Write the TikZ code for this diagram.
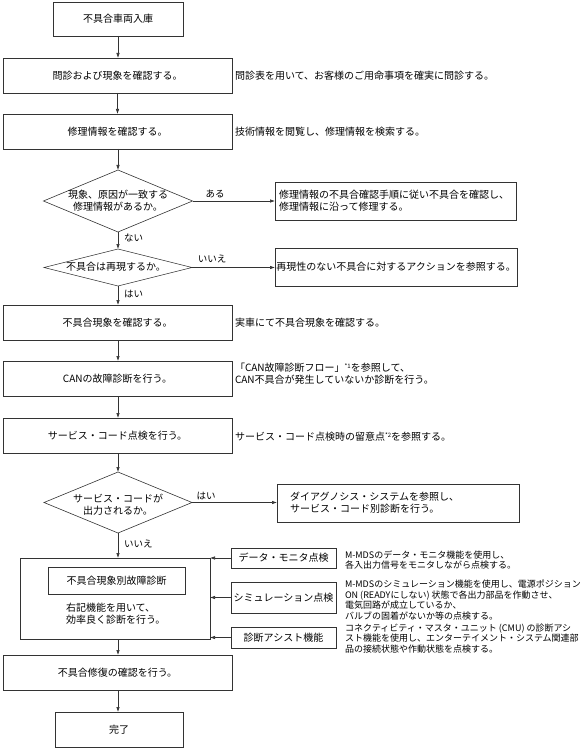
\documentclass[tikz,border=0pt]{standalone}
\usepackage{fontspec}
\setmainfont{Noto Sans CJK JP}
\usetikzlibrary{arrows.meta,shapes.geometric}
\newcommand{\supmark}[1]{\raisebox{3pt}{\fontsize{6pt}{6pt}\selectfont #1}}
\begin{document}
\begin{tikzpicture}[x=1pt,y=-1pt,
  font=\fontsize{10pt}{12pt}\selectfont,
  ln/.style={draw=black!80, line width=0.6pt},
  box/.style={ln, rectangle, inner sep=0pt, outer sep=0pt, align=center},
  dia/.style={ln, diamond, inner sep=0pt, outer sep=0pt},
  txt/.style={inner sep=0pt, outer sep=0pt, align=center},
  side/.style={inner sep=0pt, outer sep=0pt, align=left, anchor=west},
  sm/.style={side, font=\fontsize{9pt}{10.8pt}\selectfont},
  lbl/.style={inner sep=0pt, outer sep=0pt, font=\fontsize{9.5pt}{11pt}\selectfont},
  arr/.style={ln, -{Latex[length=5pt,width=3.5pt]}}]
\useasboundingbox (0,0) rectangle (584,751);

% main column
\node[box, minimum width=130pt, minimum height=34pt] (b1) at (118,19) {不具合車両入庫};
\node[box, minimum width=229pt, minimum height=35pt] (b2) at (117.5,75.5) {問診および現象を確認する。};
\node[box, minimum width=229pt, minimum height=35pt] (b3) at (117.5,131.5) {修理情報を確認する。};
\node[dia, minimum width=149pt, minimum height=62pt] (d1) at (118,201) {};
\node[txt] (d1t) at (118,200.5) {現象、原因が一致する\\修理情報があるか。};
\node[box, minimum height=38pt, text width=233pt, inner xsep=4pt, align=left] (r1) at (395.5,201) {修理情報の不具合確認手順に従い不具合を確認し、\\修理情報に沿って修理する。};
\node[dia, minimum width=148pt, minimum height=37pt] (d2) at (118,267.5) {};
\node[txt] (d2t) at (116,267) {不具合は再現するか。};
\node[box, minimum width=242pt, minimum height=38pt] (r2) at (396,267) {再現性のない不具合に対するアクションを参照する。};
\node[box, minimum width=229pt, minimum height=35pt] (b4) at (117.5,322.5) {不具合現象を確認する。};
\node[box, minimum width=229pt, minimum height=35pt] (b5) at (117.5,378.5) {CANの故障診断を行う。};
\node[box, minimum width=229pt, minimum height=35pt] (b6) at (117.5,435.5) {サービス・コード点検を行う。};
\node[dia, minimum width=148pt, minimum height=61pt] (d3) at (118,502.5) {};
\node[txt] (d3t) at (118,505) {サービス・コードが\\出力されるか。};
\node[box, minimum height=38pt, text width=216pt, inner xsep=13pt, align=left] (r3) at (398,503) {ダイアグノシス・システムを参照し、\\サービス・コード別診断を行う。};
\node[box, minimum width=190pt, minimum height=81pt] (big) at (115,598.5) {};
\node[box, minimum width=137pt, minimum height=27pt] (inner) at (116.5,580.5) {不具合現象別故障診断};
\node[side] (bigt) at (66,614) {右記機能を用いて、\\効率良く診断を行う。};
\node[box, minimum width=105pt, minimum height=20pt] (s1) at (283.5,558) {データ・モニタ点検};
\node[box, minimum width=105pt, minimum height=31pt] (s2) at (283.5,597.5) {シミュレーション点検};
\node[box, minimum width=105pt, minimum height=21pt] (s3) at (283.5,637.5) {診断アシスト機能};
\node[box, minimum width=229pt, minimum height=35pt] (b7) at (117.5,672.5) {不具合修復の確認を行う。};
\node[box, minimum width=128pt, minimum height=35pt] (b8) at (119,729.5) {完了};

% side texts
\node[side] (t2) at (235,75.5) {問診表を用いて、お客様のご用命事項を確実に問診する。};
\node[side] (t3) at (235,131.5) {技術情報を閲覧し、修理情報を検索する。};
\node[side] (t4) at (235,323) {実車にて不具合現象を確認する。};
\node[side] (t5) at (235,374) {「CAN故障診断フロー」\supmark{*1}を参照して、\\CAN不具合が発生していないか診断を行う。};
\node[side] (t6) at (235,437) {サービス・コード点検時の留意点\supmark{*2}を参照する。};
\node[sm] (m1) at (345,560) {M-MDSのデータ・モニタ機能を使用し、\\各入出力信号をモニタしながら点検する。};
\node[sm] (m2) at (345,600) {M-MDSのシミュレーション機能を使用し、電源ポジション\\ON (READYにしない) 状態で各出力部品を作動させ、\\電気回路が成立しているか、\\バルブの固着がないか等の点検する。};
\node[sm] (m3) at (345,638.5) {コネクティビティ・マスタ・ユニット (CMU) の診断アシ\\スト機能を使用し、エンターテイメント・システム関連部\\品の接続状態や作動状態を点検する。};

% labels
\node[lbl] (la1) at (215,194) {ある};
\node[lbl, anchor=west] (la2) at (124,238) {ない};
\node[lbl] (la3) at (212,259) {いいえ};
\node[lbl, anchor=west] (la4) at (124,294) {はい};
\node[lbl] (la5) at (206,496) {はい};
\node[lbl, anchor=west] (la6) at (124,544) {いいえ};

% connectors
\draw[arr] (b1.south) -- (b1.south |- b2.north);
\draw[arr] (b2.south) -- (b3.north);
\draw[arr] (b3.south -| d1.north) -- (d1.north);
\draw[arr] (d1.east) -- (d1.east -| r1.west);
\draw[arr] (d1.south) -- (d2.north);
\draw[arr] (d2.east) -- (d2.east -| r2.west);
\draw[arr] (d2.south) -- (d2.south |- b4.north);
\draw[arr] (b4.south -| d2.south) -- (b5.north -| d2.south);
\draw[arr] (b5.south -| d2.south) -- (b6.north -| d2.south);
\draw[arr] (b6.south -| d3.north) -- (d3.north);
\draw[arr] (d3.east) -- (d3.east -| r3.west);
\draw[arr] (d3.south) -- (d3.south |- big.north);
\draw[arr] (s1.west) -- (s1.west -| big.east);
\draw[arr] (s2.west) -- (s2.west -| big.east);
\draw[arr] (s3.west) -- (s3.west -| big.east);
\draw[arr] (big.south -| d3.south) -- (b7.north -| d3.south);
\draw[arr] (b7.south -| d3.south) -- (b8.north -| d3.south);
\end{tikzpicture}
\end{document}
